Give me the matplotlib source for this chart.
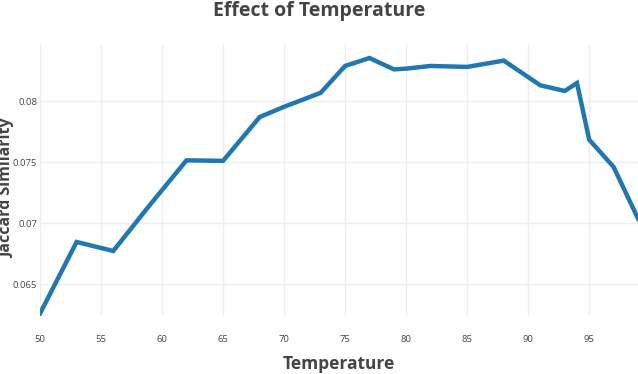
import matplotlib.pyplot as plt

temps = [50, 53, 56, 59, 62, 65, 68, 70, 73, 75, 77, 79, 80, 82, 85, 88, 91, 93, 94, 95, 97, 99]
jaccard = [0.0626, 0.06847, 0.06773, 0.07150, 0.07516, 0.07512, 0.07871, 0.07955, 0.0807,
           0.0829, 0.08355, 0.08262, 0.08268, 0.0829, 0.08282, 0.08334, 0.08131, 0.08085,
           0.0815, 0.07686, 0.07462, 0.07039]
xticks = [50, 55, 60, 65, 70, 75, 80, 85, 90, 95]
yticks = [0.065, 0.07, 0.075, 0.08]
ytick_labels = ['0.065', '0.07', '0.075', '0.08']

plt.rcParams['font.family'] = ['Open Sans', 'DejaVu Sans']

fig = plt.figure(figsize=(6.38, 3.74), dpi=100)
ax = fig.add_axes([40/638, 58/374, 598/638, 272/374])

ax.plot(temps, jaccard, color='#1f77b4', linewidth=3.2, solid_joinstyle='miter')
ax.set_xlim(50, 99)
ax.set_ylim(0.0624, 0.0847)
ax.set_xticks(xticks)
ax.set_yticks(yticks)
ax.set_yticklabels(ytick_labels)
ax.grid(True, color='#eeeeee', linewidth=1)
ax.set_axisbelow(True)
for s in ax.spines.values():
    s.set_visible(False)
ax.tick_params(length=0, labelsize=6.8, labelcolor='#444444', pad=14)
ax.tick_params(axis='y', pad=2)

fig.text(0.5, 0.998, 'Effect of Temperature', ha='center', va='top',
         fontsize=14, fontweight='bold', color='#444444')
fig.text(339/638, 1 - 364/374, 'Temperature', ha='center', va='center',
         fontsize=12.5, fontweight='bold', color='#444444')
fig.text(7/638, 1 - 188/374, 'Jaccard Similarity', rotation=90, ha='center', va='center',
         fontsize=11.5, fontweight='bold', color='#444444')

plt.savefig('out.png', dpi=100)
